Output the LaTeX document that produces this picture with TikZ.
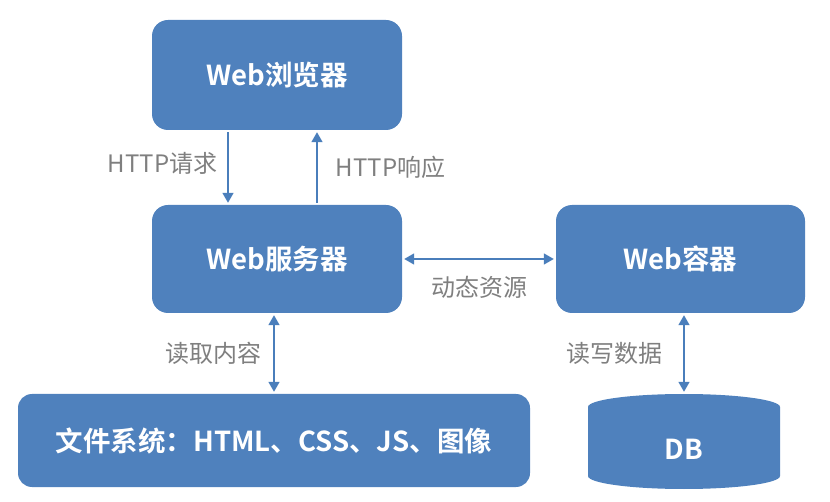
\documentclass[tikz,border=0pt]{standalone}
\usepackage{fontspec}
\setmainfont{Noto Sans CJK SC}[BoldFont={Noto Sans CJK SC Bold}]
\usetikzlibrary{arrows.meta}
\definecolor{boxblue}{HTML}{4F81BD}
\definecolor{arrowblue}{HTML}{4A7EBB}
\definecolor{lblgray}{HTML}{7F7F7F}
\begin{document}
\begin{tikzpicture}[x=1pt, y=-1pt,
  boxnode/.style={fill=boxblue, rounded corners=16pt, text=white, font=\bfseries\fontsize{27.5}{32}\selectfont, inner sep=0pt},
  dbnode/.style={text=white, font=\bfseries\fontsize{27.5}{32}\selectfont, inner sep=0pt, text height=36pt, text depth=0pt},
  arrowline/.style={draw=arrowblue, line width=1.6pt, shorten <=2pt, shorten >=2pt},
  lbl/.style={text=lblgray, font=\fontsize{24}{28}\selectfont, inner sep=0pt}]
% Canvas
\useasboundingbox (0,0) rectangle (830,502);
% Boxes
\node[boxnode, minimum width=250pt, minimum height=110pt] (browser) at (277,75) {Web浏览器};
\node[boxnode, minimum width=250pt, minimum height=108pt] (server) at (277,259) {Web服务器};
\node[boxnode, minimum width=249pt, minimum height=108pt] (container) at (680.5,259) {Web容器};
\node[boxnode, minimum width=512pt, minimum height=93pt, rounded corners=14pt] (files) at (274,440.5) {文件系统：HTML、CSS、JS、图像};
% Database cylinder
\fill[boxblue] (588,407) arc[start angle=180, end angle=360, x radius=96, y radius=13]
  -- (780,476) arc[start angle=0, end angle=180, x radius=96, y radius=13] -- cycle;
\node[dbnode, minimum width=192pt, minimum height=94pt] (db) at (684,441) {DB};
% Connectors
\draw[arrowline, -{Triangle[width=11pt,length=10pt]}] ([xshift=-49pt]browser.south) -- ([xshift=-49pt]server.north)
  node[midway, left=10pt, lbl, yshift=4pt] {HTTP请求};
\draw[arrowline, -{Triangle[width=11pt,length=10pt]}] ([xshift=40pt]server.north) -- ([xshift=40pt]browser.south)
  node[midway, right=18pt, lbl] {HTTP响应};
\draw[arrowline, {Triangle[width=11pt,length=10pt]}-{Triangle[width=11pt,length=10pt]}] (server.east) -- (container.west)
  node[midway, below=16pt, lbl] {动态资源};
\draw[arrowline, {Triangle[width=11pt,length=10pt]}-{Triangle[width=11pt,length=10pt]}] (server.south -| files.north) -- (files.north)
  node[midway, left=12pt, lbl] {读取内容};
\draw[arrowline, {Triangle[width=11pt,length=10pt]}-{Triangle[width=11pt,length=10pt]}] (container.south -| db.north) -- (db.north)
  node[midway, left=21pt, lbl] {读写数据};
\end{tikzpicture}
\end{document}
